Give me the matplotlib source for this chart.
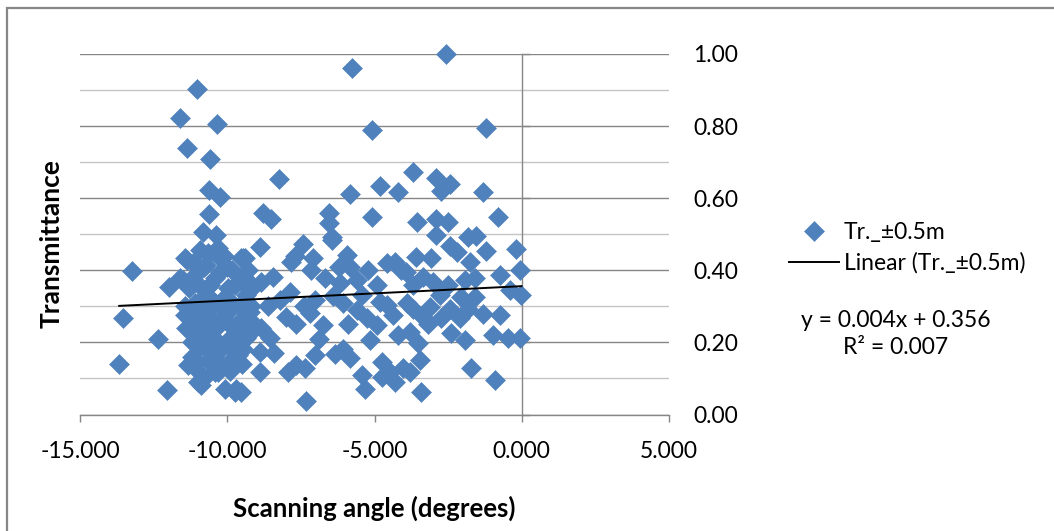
import numpy as np
import matplotlib
matplotlib.use("Agg")
import matplotlib.pyplot as plt
from matplotlib.ticker import MultipleLocator, FormatStrFormatter, FixedLocator
from matplotlib.patches import Rectangle
from matplotlib.lines import Line2D

# ---- data: scanning angle (degrees) vs. transmittance, grouped by region ----
angle_high = [-11.03, -11.61, -10.35, -11.35, -10.59, -8.25, -10.63, -10.25, -10.63, -8.78, -8.50, -10.82, -10.39,
              -2.56, -5.78, -5.10, -1.22, -3.69, -4.80, -5.82, -4.20, -2.92, -2.44, -2.75, -1.31,
              -6.54, -6.54, -5.07, -3.55, -2.92, -2.49, -0.80, -6.46, -2.90, -1.82, -1.54, -2.44]
trans_high = [0.903, 0.822, 0.807, 0.738, 0.709, 0.654, 0.623, 0.604, 0.556, 0.558, 0.542, 0.507, 0.498,
              1.000, 0.960, 0.790, 0.794, 0.672, 0.635, 0.612, 0.616, 0.656, 0.640, 0.621, 0.618,
              0.558, 0.532, 0.547, 0.535, 0.542, 0.533, 0.547, 0.493, 0.498, 0.492, 0.495, 0.468]

angle_far = [-13.22, -11.99, -13.54, -12.35, -13.67, -12.06]
trans_far = [0.399, 0.353, 0.268, 0.209, 0.141, 0.067]

angle_core = [-10.31, -10.93, -11.37, -9.46, -10.71, -10.26, -11.50, -9.58, -10.60, -9.97,
              -10.71, -9.35, -11.27, -10.60, -10.03, -9.46, -10.93, -10.37, -9.69, -10.71,
              -10.03, -9.46, -10.60, -9.80, -11.10, -10.31, -10.93, -10.88, -10.08, -9.75,
              -11.16, -10.42, -9.86, -10.25, -9.63, -10.48,
              -10.65, -11.44, -9.52, -11.61, -11.33, -10.99, -9.69, -10.42, -8.90, -11.44, -9.07,
              -11.05, -10.85, -10.15, -9.75, -9.95, -10.55, -9.30, -9.20, -10.20, -11.20, -10.00,
              -9.60, -10.50, -9.90, -10.70, -11.00,
              -11.45, -11.30, -11.15, -10.95, -10.80, -10.45, -10.10, -9.85, -9.40, -9.25,
              -11.40, -11.10, -10.90, -10.75, -10.40, -10.30, -10.15, -9.90, -9.55, -9.35,
              -11.20, -10.95, -10.65, -10.35, -10.20, -9.95, -9.70, -9.50, -10.80, -10.55]
trans_core = [0.461, 0.456, 0.429, 0.433, 0.415, 0.396, 0.373, 0.378, 0.359, 0.350,
              0.331, 0.331, 0.271, 0.294, 0.285, 0.267, 0.248, 0.239, 0.229, 0.211,
              0.202, 0.183, 0.174, 0.156, 0.137, 0.118, 0.114, 0.081, 0.072, 0.063,
              0.285, 0.378, 0.313, 0.257, 0.165, 0.137,
              0.447, 0.433, 0.433, 0.378, 0.137, 0.091, 0.072, 0.118, 0.174, 0.276, 0.248,
              0.390, 0.300, 0.320, 0.360, 0.250, 0.265, 0.220, 0.300, 0.430, 0.200, 0.410,
              0.300, 0.190, 0.120, 0.350, 0.260,
              0.300, 0.350, 0.420, 0.360, 0.410, 0.450, 0.440, 0.400, 0.380, 0.360,
              0.240, 0.310, 0.190, 0.270, 0.310, 0.200, 0.270, 0.290, 0.240, 0.270,
              0.160, 0.230, 0.150, 0.170, 0.140, 0.190, 0.200, 0.140, 0.100, 0.320]

angle_mid = [-8.90, -7.43, -6.46, -7.08, -7.82, -5.95, -9.41, -9.29, -4.59, -7.14,
             -5.84, -5.22, -8.44, -8.84, -6.69, -6.18, -5.61, -4.93, -9.24, -7.88,
             -8.22, -7.03, -6.07, -5.44, -4.82, -9.24, -7.20, -6.75, -7.65, -5.27,
             -4.93, -8.84, -9.35, -8.56, -5.16, -6.07, -6.35, -5.84, -7.03, -7.65,
             -7.94, -7.37, -8.90, -5.44, -4.76, -5.33, -7.31, -9.52,
             -8.60, -8.00, -6.40, -6.90, -5.60, -8.40, -7.70, -6.20, -7.40, -5.90]
trans_mid = [0.464, 0.472, 0.484, 0.435, 0.424, 0.443, 0.433, 0.401, 0.419, 0.401,
             0.410, 0.401, 0.382, 0.368, 0.378, 0.364, 0.373, 0.359, 0.345, 0.341,
             0.318, 0.318, 0.308, 0.331, 0.313, 0.285, 0.281, 0.248, 0.250, 0.267,
             0.248, 0.239, 0.211, 0.211, 0.206, 0.183, 0.169, 0.156, 0.165, 0.137,
             0.118, 0.128, 0.118, 0.109, 0.104, 0.072, 0.037, 0.063,
             0.300, 0.270, 0.330, 0.210, 0.290, 0.170, 0.440, 0.410, 0.300, 0.250]

angle_near = [-1.20, -0.20, -4.31, -3.58, -3.07, -1.77, -3.92, -3.35, -0.75, -0.07,
              -1.60, -3.69, -3.01, -1.94, -0.41, -0.01, -2.78, -2.05, -1.60,
              -4.59, -3.69, -3.12, -2.44, -1.82, -4.37, -3.35, -2.73, -2.11, -0.75,
              -3.80, -2.39, -0.97, -0.46, -0.07, -1.94, -3.52, -4.76, -3.46,
              -4.03, -4.48, -3.80, -1.71, -4.31, -0.92, -3.41,
              -4.10, -3.90, -2.50, -1.30, -4.20, -3.20, -2.20]
trans_near = [0.454, 0.459, 0.424, 0.438, 0.433, 0.422, 0.396, 0.382, 0.387, 0.401,
              0.378, 0.359, 0.368, 0.373, 0.345, 0.331, 0.331, 0.327, 0.327,
              0.304, 0.294, 0.299, 0.294, 0.294, 0.276, 0.271, 0.267, 0.267, 0.276,
              0.229, 0.225, 0.220, 0.211, 0.211, 0.206, 0.197, 0.146, 0.151,
              0.128, 0.118, 0.118, 0.129, 0.091, 0.095, 0.063,
              0.400, 0.310, 0.360, 0.280, 0.220, 0.250, 0.450]

series_name = "Tr._\u00b10.5m"
trend_slope = 0.004
trend_intercept = 0.356
trend_r2 = 0.007

x_ticks = [-15, -10, -5, 0, 5]
y_ticks = [0.0, 0.2, 0.4, 0.6, 0.8, 1.0]

angle = np.array(angle_high + angle_far + angle_core + angle_mid + angle_near)
trans = np.array(trans_high + trans_far + trans_core + trans_mid + trans_near)

# ---- style ----
W, H = 1054, 531
FONT = ["Lato", "DejaVu Sans"]
plt.rcParams["font.family"] = FONT
FS = 16.5
FS_TITLE = 18.5
BLUE = "#4F81BD"
AXIS_GRAY = "#868686"
MINOR_GRAY = "#c4c4c4"

fig = plt.figure(figsize=(W / 100, H / 100), dpi=100)
fig.patch.set_facecolor("white")
ax = fig.add_axes([80 / W, 1 - 414.5 / H, 589 / W, 360.5 / H])

ax.set_xlim(-15, 5)
ax.set_ylim(0, 1.0)

# horizontal gridlines: major every 0.2, minor every 0.1
ax.yaxis.set_major_locator(FixedLocator(y_ticks))
ax.yaxis.set_minor_locator(MultipleLocator(0.1))
ax.xaxis.set_major_locator(FixedLocator(x_ticks))
ax.yaxis.grid(True, which="major", color=AXIS_GRAY, lw=1.0)
ax.yaxis.grid(True, which="minor", color=MINOR_GRAY, lw=1.0)
ax.set_axisbelow(True)

ax.xaxis.set_major_formatter(FormatStrFormatter("%.3f"))
ax.yaxis.set_major_formatter(FormatStrFormatter("%.2f"))

# vertical axis crosses at x = 0, labels sit at the high end
ax.spines["left"].set_position(("data", 0))
for s in ("left", "bottom"):
    ax.spines[s].set_color(AXIS_GRAY)
    ax.spines[s].set_linewidth(1.0)
ax.spines["top"].set_visible(False)
ax.spines["right"].set_visible(False)

ax.tick_params(axis="y", which="major", left=True, right=False, labelleft=False,
               labelright=True, direction="in", length=6, width=1.0,
               color=AXIS_GRAY, pad=17.5, labelsize=FS, labelcolor="black")
ax.tick_params(axis="y", which="minor", left=False, right=False, length=0)
ax.tick_params(axis="x", which="major", direction="out", length=5, width=1.0,
               color=AXIS_GRAY, pad=14, labelsize=FS, labelcolor="black")

# scatter series
ax.plot(angle, trans, linestyle="none", marker="D", ms=9.8, color=BLUE,
        markeredgecolor=BLUE, markeredgewidth=0.4, zorder=3, clip_on=False)

# linear trendline over the data range
tx = np.array([angle.min(), angle.max()])
ax.plot(tx, trend_slope * tx + trend_intercept, color="black", lw=1.4, zorder=4)

# axis titles
ax.set_xlabel("Scanning angle (degrees)", fontsize=FS_TITLE, fontweight="bold")
ax.xaxis.set_label_coords(0.5, (414.5 - 508) / 360.5)
ax.xaxis.label.set_va("center")
ax.set_ylabel("Transmittance", fontsize=FS_TITLE + 0.5, fontweight="bold")
ax.yaxis.set_label_coords((52 - 80) / 589, (414.5 - 244) / 360.5)
ax.yaxis.label.set_va("center")

# legend
handles = [
    Line2D([], [], linestyle="none", marker="D", ms=9.8, color=BLUE, markeredgewidth=0.4),
    Line2D([], [], color="black", lw=1.4),
]
labels = [series_name, "Linear (" + series_name + ")"]
fig.legend(handles, labels, loc="center left", bbox_to_anchor=(789 / W, 1 - 248 / H),
           frameon=False, borderpad=0, borderaxespad=0, handlelength=2.2,
           handletextpad=0.2, labelspacing=0.42, fontsize=FS)

# trendline equation
fig.text(896 / W, 1 - 334 / H,
         "y = %.3fx + %.3f\nR\u00b2 = %.3f" % (trend_slope, trend_intercept, trend_r2),
         ha="center", va="center", multialignment="center", fontsize=FS, linespacing=1.32)

# chart-area border
fig.add_artist(Rectangle((7 / W, -0.1), 1.2, (H - 8) / H + 0.1, transform=fig.transFigure,
                         fill=False, edgecolor=AXIS_GRAY, lw=1.6, clip_on=False))

fig.savefig("out.png", dpi=100)
